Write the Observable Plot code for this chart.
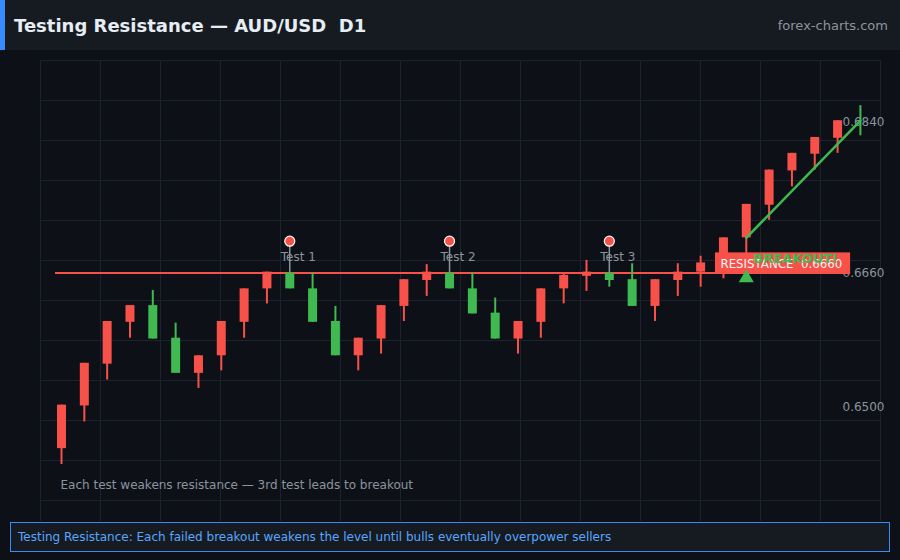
<!DOCTYPE html>
<html>
<head>
<meta charset="utf-8">
<script src="https://cdn.jsdelivr.net/npm/d3@7"></script>
<script src="https://cdn.jsdelivr.net/npm/@observablehq/plot@0.6"></script>
<style>
  html, body { margin: 0; padding: 0; width: 900px; height: 560px; overflow: hidden; background: #0d1117; font-family: "DejaVu Sans", sans-serif; }
  #header { position: absolute; left: 0; top: 0; width: 895px; height: 50px; background: #161b22; border-left: 5px solid #388bfd; display: flex; align-items: center; justify-content: space-between; }
  #title { color: #e6edf3; font-weight: bold; font-size: 18px; margin-left: 9px; white-space: pre; }
  #site { color: #8b949e; font-size: 13px; margin-right: 12px; }
  #grid { position: absolute; left: 40px; top: 60px; width: 841px; height: 461px;
    background-image: linear-gradient(to right, #1c2230 1px, transparent 1px), linear-gradient(to bottom, #1c2230 1px, transparent 1px);
    background-size: 60px 40px; }
  #chart { position: absolute; left: 0; top: 50px; }
  #chart text { white-space: pre; }
  #caption { position: absolute; left: 10px; top: 522px; width: 880px; height: 30px; box-sizing: border-box; border: 1px solid #388bfd; background: #161b22; color: #58a6ff; font-size: 12px; line-height: 28px; padding-left: 7px; white-space: pre; }
</style>
</head>
<body>
<div id="header"><div id="title">Testing Resistance — AUD/USD  D1</div><div id="site">forex-charts.com</div></div>
<div id="grid"></div>
<div id="chart"></div>
<div id="caption">Testing Resistance: Each failed breakout weakens the level until bulls eventually overpower sellers</div>
<script>
// ---- data ----
const candleOpen  = [0.6450,0.6501,0.6551,0.6601,0.6621,0.6582,0.6540,0.6561,0.6601,0.6641,0.6660,0.6641,0.6602,0.6561,0.6581,0.6620,0.6651,0.6660,0.6641,0.6612,0.6581,0.6601,0.6641,0.6656,0.6660,0.6652,0.6620,0.6651,0.6661,0.6672,0.6702,0.6741,0.6782,0.6802,0.6821,0.6842];
const candleClose = [0.6502,0.6552,0.6602,0.6621,0.6581,0.6540,0.6561,0.6602,0.6641,0.6661,0.6641,0.6601,0.6561,0.6582,0.6621,0.6652,0.6661,0.6641,0.6611,0.6581,0.6602,0.6641,0.6657,0.6661,0.6651,0.6620,0.6652,0.6661,0.6672,0.6702,0.6742,0.6783,0.6803,0.6822,0.6842,0.6842];
const candleHigh  = [0.6502,0.6552,0.6602,0.6621,0.6639,0.6600,0.6561,0.6602,0.6641,0.6661,0.6660,0.6660,0.6620,0.6582,0.6621,0.6652,0.6670,0.6660,0.6660,0.6630,0.6602,0.6641,0.6660,0.6675,0.6660,0.6671,0.6652,0.6671,0.6680,0.6702,0.6742,0.6783,0.6803,0.6822,0.6842,0.6860];
const candleLow   = [0.6431,0.6482,0.6532,0.6582,0.6581,0.6540,0.6522,0.6543,0.6582,0.6623,0.6641,0.6601,0.6561,0.6543,0.6563,0.6602,0.6632,0.6641,0.6611,0.6581,0.6563,0.6582,0.6623,0.6638,0.6643,0.6620,0.6602,0.6632,0.6643,0.6653,0.6682,0.6723,0.6763,0.6783,0.6803,0.6824];

const resistance = 0.6660;
const resistanceSpan = [-0.263, 34.57];
const axisTicks = [0.6500, 0.6660, 0.6840];

const testIdx = [10, 17, 24];
const testLabels = ["Test 1", "Test 2", "Test 3"];
const testDotPrice = 0.6698;
const testLabelPrice = 0.6679;

const breakoutIdx = 30;
const breakoutPts = [{i: 30, p: 0.6702}, {i: 35, p: 0.6842}];
const breakoutLabelPrice = 0.6677;
const breakoutMarkerPrice = 0.6654;

const labelBox = {x1: 28.65, x2: 34.57, y1: 0.6660, y2: 0.6684};
const labelTextPrice = 0.6671;
const resistanceLabel = "RESISTANCE  0.6660";
const note = "Each test weakens resistance — 3rd test leads to breakout";

// ---- styles ----
const RED = "#f85149", GREEN = "#3fb950", GRAY = "#8b949e";

const candles = candleOpen.map((o, i) => ({
  i, open: o, close: candleClose[i], high: candleHigh[i], low: candleLow[i],
  color: candleClose[i] > o ? RED : GREEN
}));

const chart = Plot.plot({
  width: 900, height: 470,
  marginTop: 10, marginBottom: 20, marginLeft: 40, marginRight: 20,
  style: {background: "transparent", fontFamily: "DejaVu Sans", overflow: "visible"},
  x: {type: "linear", domain: [-0.92, 35.88], axis: null},
  y: {domain: [0.6388, 0.6914], axis: null},
  color: {type: "identity"},
  marks: [
    Plot.text(axisTicks, {y: d => d, text: d => d.toFixed(4), frameAnchor: "right", dx: 4, textAnchor: "end", fill: GRAY, fontSize: 12}),
    Plot.ruleY([resistance], {y: d => d, x1: () => resistanceSpan[0], x2: () => resistanceSpan[1], stroke: RED, strokeWidth: 2}),
    Plot.ruleX(candles, {x: "i", y1: "low", y2: "high", stroke: "color", strokeWidth: 2}),
    Plot.ruleX(candles, {x: "i", y1: "open", y2: "close", stroke: "color", strokeWidth: 9}),
    Plot.ruleX(testIdx, {x: d => d, y1: () => resistance, y2: () => testDotPrice, stroke: GRAY, strokeWidth: 1.5}),
    Plot.dot(testIdx, {x: d => d, y: () => testDotPrice, r: 5, fill: RED, stroke: "#ffffff", strokeWidth: 1.2}),
    Plot.text(testIdx, {x: d => d, y: () => testLabelPrice, text: (d, k) => testLabels[k], dx: 8.5, fill: GRAY, fontSize: 12}),
    Plot.line(breakoutPts, {x: "i", y: "p", stroke: GREEN, strokeWidth: 2.5}),
    Plot.rect([labelBox], {x1: "x1", x2: "x2", y1: "y1", y2: "y2", fill: RED}),
    Plot.text([resistanceLabel], {x: () => labelBox.x1, y: () => labelTextPrice, text: d => d, textAnchor: "start", dx: 5, fill: "#f5f5f5", fontSize: 11.8}),
    Plot.text(["BREAKOUT!"], {x: () => breakoutIdx, y: () => breakoutLabelPrice, text: d => d, textAnchor: "start", dx: 7, fill: GREEN, fontWeight: "bold", fontSize: 13}),
    Plot.dot([breakoutIdx], {x: d => d, y: () => breakoutMarkerPrice, symbol: "triangle", r: 5.6, fill: GREEN}),
    Plot.text([note], {text: d => d, frameAnchor: "bottom-left", dx: 20, dy: -12, textAnchor: "start", fill: GRAY, fontSize: 12})
  ]
});
document.getElementById("chart").appendChild(chart);
</script>
</body>
</html>
